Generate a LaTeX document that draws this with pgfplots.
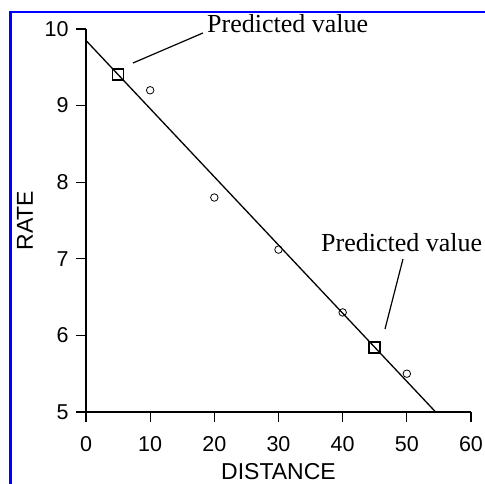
\documentclass[border=0pt]{standalone}
\usepackage{pgfplots}
\pgfplotsset{compat=1.18}
\usepackage{fontspec}
\setmainfont{Liberation Serif}
\setsansfont{Liberation Sans}
\begin{document}
\begin{tikzpicture}[x=1pt,y=1pt]
\useasboundingbox (0,0) rectangle (485,484);
\draw[blue, line width=2.2pt] (10.5,0) -- (10.5,472) -- (485,472);
\begin{axis}[
  at={(86pt,72pt)}, anchor=south west,
  width=385pt, height=383pt, scale only axis,
  xmin=0, xmax=60, ymin=5, ymax=10,
  axis x line=bottom, axis y line=left,
  axis line style={-, line width=1.2pt},
  xtick={0,10,...,60}, ytick={5,6,...,10},
  tick align=outside, major tick length=10pt,
  tick style={line width=1.2pt, black},
  ticklabel style={font=\sffamily\fontsize{21.5}{24}\selectfont},
  xticklabel style={yshift=-11pt},
  yticklabel style={xshift=-4pt},
  /pgf/number format/assume math mode=true,
  xlabel={DISTANCE}, ylabel={RATE},
  label style={font=\sffamily\fontsize{23}{26}\selectfont},
  xlabel style={at={(axis description cs:0.5,-0.1775)}, anchor=base},
  ylabel style={at={(axis description cs:-0.1377,0.5)}, anchor=base},
  clip=false,
]
\addplot[no marks, line width=1.3pt] coordinates {(0,9.85) (54.49,5)};
\addplot[only marks, mark=o, mark size=3.75pt, mark options={line width=0.8pt}] coordinates {(10,9.2) (20,7.8) (30,7.12) (40,6.3) (50,5.5)};
\addplot[only marks, mark=square, mark size=5.5pt, mark options={line width=1.6pt}] coordinates {(5,9.405) (45,5.845)};
\draw[line width=1.2pt] (axis cs:7.32,9.556) -- (axis cs:18.23,9.948);
\draw[line width=1.2pt] (axis cs:49.40,6.997) -- (axis cs:46.60,6.084);
\node[anchor=base west, inner sep=0pt, font=\fontsize{26}{30}\selectfont] at (axis cs:18.86,9.948) {Predicted value};
\node[anchor=base west, inner sep=0pt, font=\fontsize{26}{30}\selectfont] at (axis cs:36.62,7.089) {Predicted value};
\end{axis}
\end{tikzpicture}
\end{document}
